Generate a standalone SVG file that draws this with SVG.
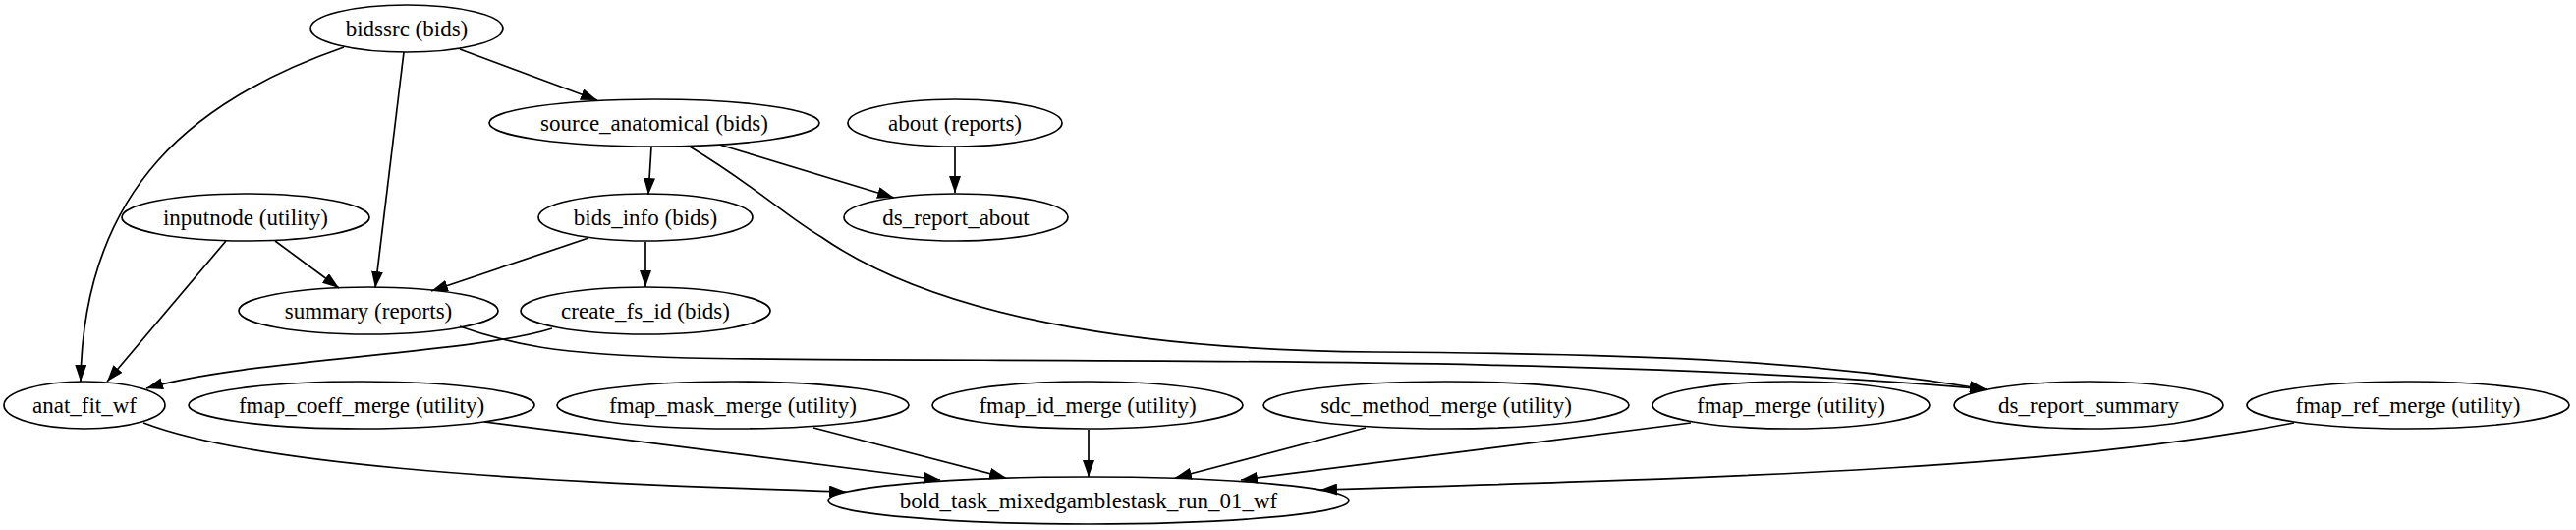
<svg xmlns="http://www.w3.org/2000/svg" width="2622" height="539" viewBox="0 0 2622 539">
<style>
ellipse{fill:none;stroke:#000;stroke-width:1.7}
text{font-family:"Liberation Serif","Times New Roman",serif;font-size:23px;text-anchor:middle;dominant-baseline:central;fill:#000}
.e path{fill:none;stroke:#000;stroke-width:1.7;marker-end:url(#a)}
</style>
<defs><marker id="a" markerUnits="userSpaceOnUse" markerWidth="18" markerHeight="12" refX="17" refY="6" orient="auto"><path d="M0,0 L17,6 L0,12 Z" fill="#000"/></marker></defs>
<rect width="2622" height="539" fill="#fff"/>
<g class="e" id="edges">
<path d="M350,48 C200,100 85,190 82,388"/>
<path d="M411,53 L382,293"/>
<path d="M468,50 L608,102"/>
<path d="M663,149 L660,198"/>
<path d="M732,147 L910,201"/>
<path d="M702,149 C770,190 800,220 836,241 C950,320 1150,356 1400,358 C1700,360 1850,368 2022,396"/>
<path d="M972,150 L972,196"/>
<path d="M280,245 L345,293"/>
<path d="M230,245 L109,388"/>
<path d="M599,242 L439,296"/>
<path d="M657,246 L657,292"/>
<path d="M468,332 C520,350 560,360 700,364 C1000,370 1600,358 2022,396"/>
<path d="M562,334 C480,360 250,365 149,395"/>
<path d="M146,430 C250,470 500,490 861,500"/>
<path d="M493,429 L957,488"/>
<path d="M828,435 L1024,486"/>
<path d="M1108,437 L1108,485"/>
<path d="M1390,435 L1196,486"/>
<path d="M1721,430 L1263,488"/>
<path d="M2335,430 C2100,475 1800,485 1344,498"/>
</g>
<g id="bidssrc"><ellipse cx="414" cy="29" rx="98" ry="24"/><text x="414" y="29">bidssrc (bids)</text></g>
<g id="source_anatomical"><ellipse cx="666" cy="125" rx="168" ry="24"/><text x="666" y="125">source_anatomical (bids)</text></g>
<g id="about"><ellipse cx="972" cy="125" rx="109" ry="24"/><text x="972" y="125">about (reports)</text></g>
<g id="inputnode"><ellipse cx="250" cy="221" rx="126" ry="24"/><text x="250" y="221">inputnode (utility)</text></g>
<g id="bids_info"><ellipse cx="657" cy="221" rx="109" ry="24"/><text x="657" y="221">bids_info (bids)</text></g>
<g id="ds_report_about"><ellipse cx="973" cy="221" rx="114" ry="24"/><text x="973" y="221">ds_report_about</text></g>
<g id="summary"><ellipse cx="375" cy="316" rx="132" ry="24"/><text x="375" y="316">summary (reports)</text></g>
<g id="create_fs_id"><ellipse cx="657" cy="316" rx="127" ry="24"/><text x="657" y="316">create_fs_id (bids)</text></g>
<g id="anat_fit_wf"><ellipse cx="86" cy="412" rx="82" ry="24"/><text x="86" y="412">anat_fit_wf</text></g>
<g id="fmap_coeff_merge"><ellipse cx="368" cy="412" rx="176" ry="24"/><text x="368" y="412">fmap_coeff_merge (utility)</text></g>
<g id="fmap_mask_merge"><ellipse cx="746" cy="412" rx="179" ry="24"/><text x="746" y="412">fmap_mask_merge (utility)</text></g>
<g id="fmap_id_merge"><ellipse cx="1107" cy="412" rx="158" ry="24"/><text x="1107" y="412">fmap_id_merge (utility)</text></g>
<g id="sdc_method_merge"><ellipse cx="1472" cy="412" rx="186" ry="24"/><text x="1472" y="412">sdc_method_merge (utility)</text></g>
<g id="fmap_merge"><ellipse cx="1823" cy="412" rx="141" ry="24"/><text x="1823" y="412">fmap_merge (utility)</text></g>
<g id="ds_report_summary"><ellipse cx="2126" cy="412" rx="137" ry="24"/><text x="2126" y="412">ds_report_summary</text></g>
<g id="fmap_ref_merge"><ellipse cx="2451" cy="412" rx="164" ry="24"/><text x="2451" y="412">fmap_ref_merge (utility)</text></g>
<g id="bold_task"><ellipse cx="1108" cy="509" rx="265" ry="24"/><text x="1108" y="509">bold_task_mixedgamblestask_run_01_wf</text></g>
</svg>
